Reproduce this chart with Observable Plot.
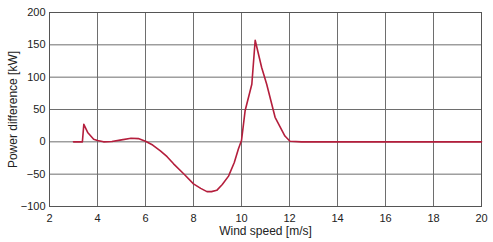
<!DOCTYPE html>
<html>
<head>
<meta charset="utf-8">
<script src="https://cdn.jsdelivr.net/npm/d3@7"></script>
<script src="https://cdn.jsdelivr.net/npm/@observablehq/plot@0.6"></script>
<style>
  html, body { margin: 0; padding: 0; background: #fff; }
  #chart svg { display: block; }
</style>
</head>
<body>
<div id="chart"></div>
<script>
const windSpeed = [3.0, 3.37, 3.43, 3.6, 3.84, 4.0, 4.25, 4.6, 5.0, 5.4, 5.7, 6.0, 6.3, 6.62, 6.9, 7.17, 7.58, 8.0, 8.3, 8.56, 8.75, 8.97, 9.2, 9.46, 9.7, 9.87, 10.0, 10.15, 10.43, 10.57, 10.84, 11.05, 11.4, 11.81, 12.02, 12.5, 16, 20];
const powerDiff = [0, 0, 27, 14, 4, 2, 0, 0.5, 3, 5.5, 5, 1, -5, -14, -23, -34, -49, -65, -72, -77, -77, -75, -66, -53, -32, -11, 2, 48, 89, 157, 115, 89, 38, 9, 1, 0, 0, 0];
const xTicks = [2, 4, 6, 8, 10, 12, 14, 16, 18, 20];
const yTicks = [-100, -50, 0, 50, 100, 150, 200];

const data = windSpeed.map((x, i) => ({x, y: powerDiff[i]}));

const chart = Plot.plot({
  width: 493,
  height: 242,
  marginLeft: 49,
  marginRight: 12,
  marginTop: 12,
  marginBottom: 36,
  style: {fontFamily: "'Liberation Sans', Arial, sans-serif", fontSize: "11px", color: "#222", background: "#fff"},
  x: {domain: [2, 20], ticks: xTicks, label: null},
  y: {domain: [-100, 200], ticks: yTicks, label: null},
  marks: [
    Plot.gridX(xTicks, {stroke: "#6e6e6e", strokeOpacity: 1, strokeWidth: 1}),
    Plot.gridY(yTicks, {stroke: "#6e6e6e", strokeOpacity: 1, strokeWidth: 1}),
    Plot.frame({stroke: "#555"}),
    Plot.axisX(xTicks, {tickSize: 0, tickPadding: 8, fontSize: 11}),
    Plot.axisY(yTicks, {tickSize: 0, tickPadding: 4, fontSize: 11}),
    Plot.text(["Wind speed [m/s]"], {frameAnchor: "bottom", dy: 25, lineAnchor: "middle", textAnchor: "middle", fontSize: 12, fill: "#222"}),
    Plot.text(["Power difference [kW]"], {frameAnchor: "left", dx: -36, rotate: -90, lineAnchor: "middle", textAnchor: "middle", fontSize: 12, fill: "#222"}),
    Plot.line(data, {x: "x", y: "y", stroke: "#b41e3c", strokeWidth: 1.6, curve: "linear"})
  ]
});
document.getElementById("chart").appendChild(chart);
</script>
</body>
</html>
